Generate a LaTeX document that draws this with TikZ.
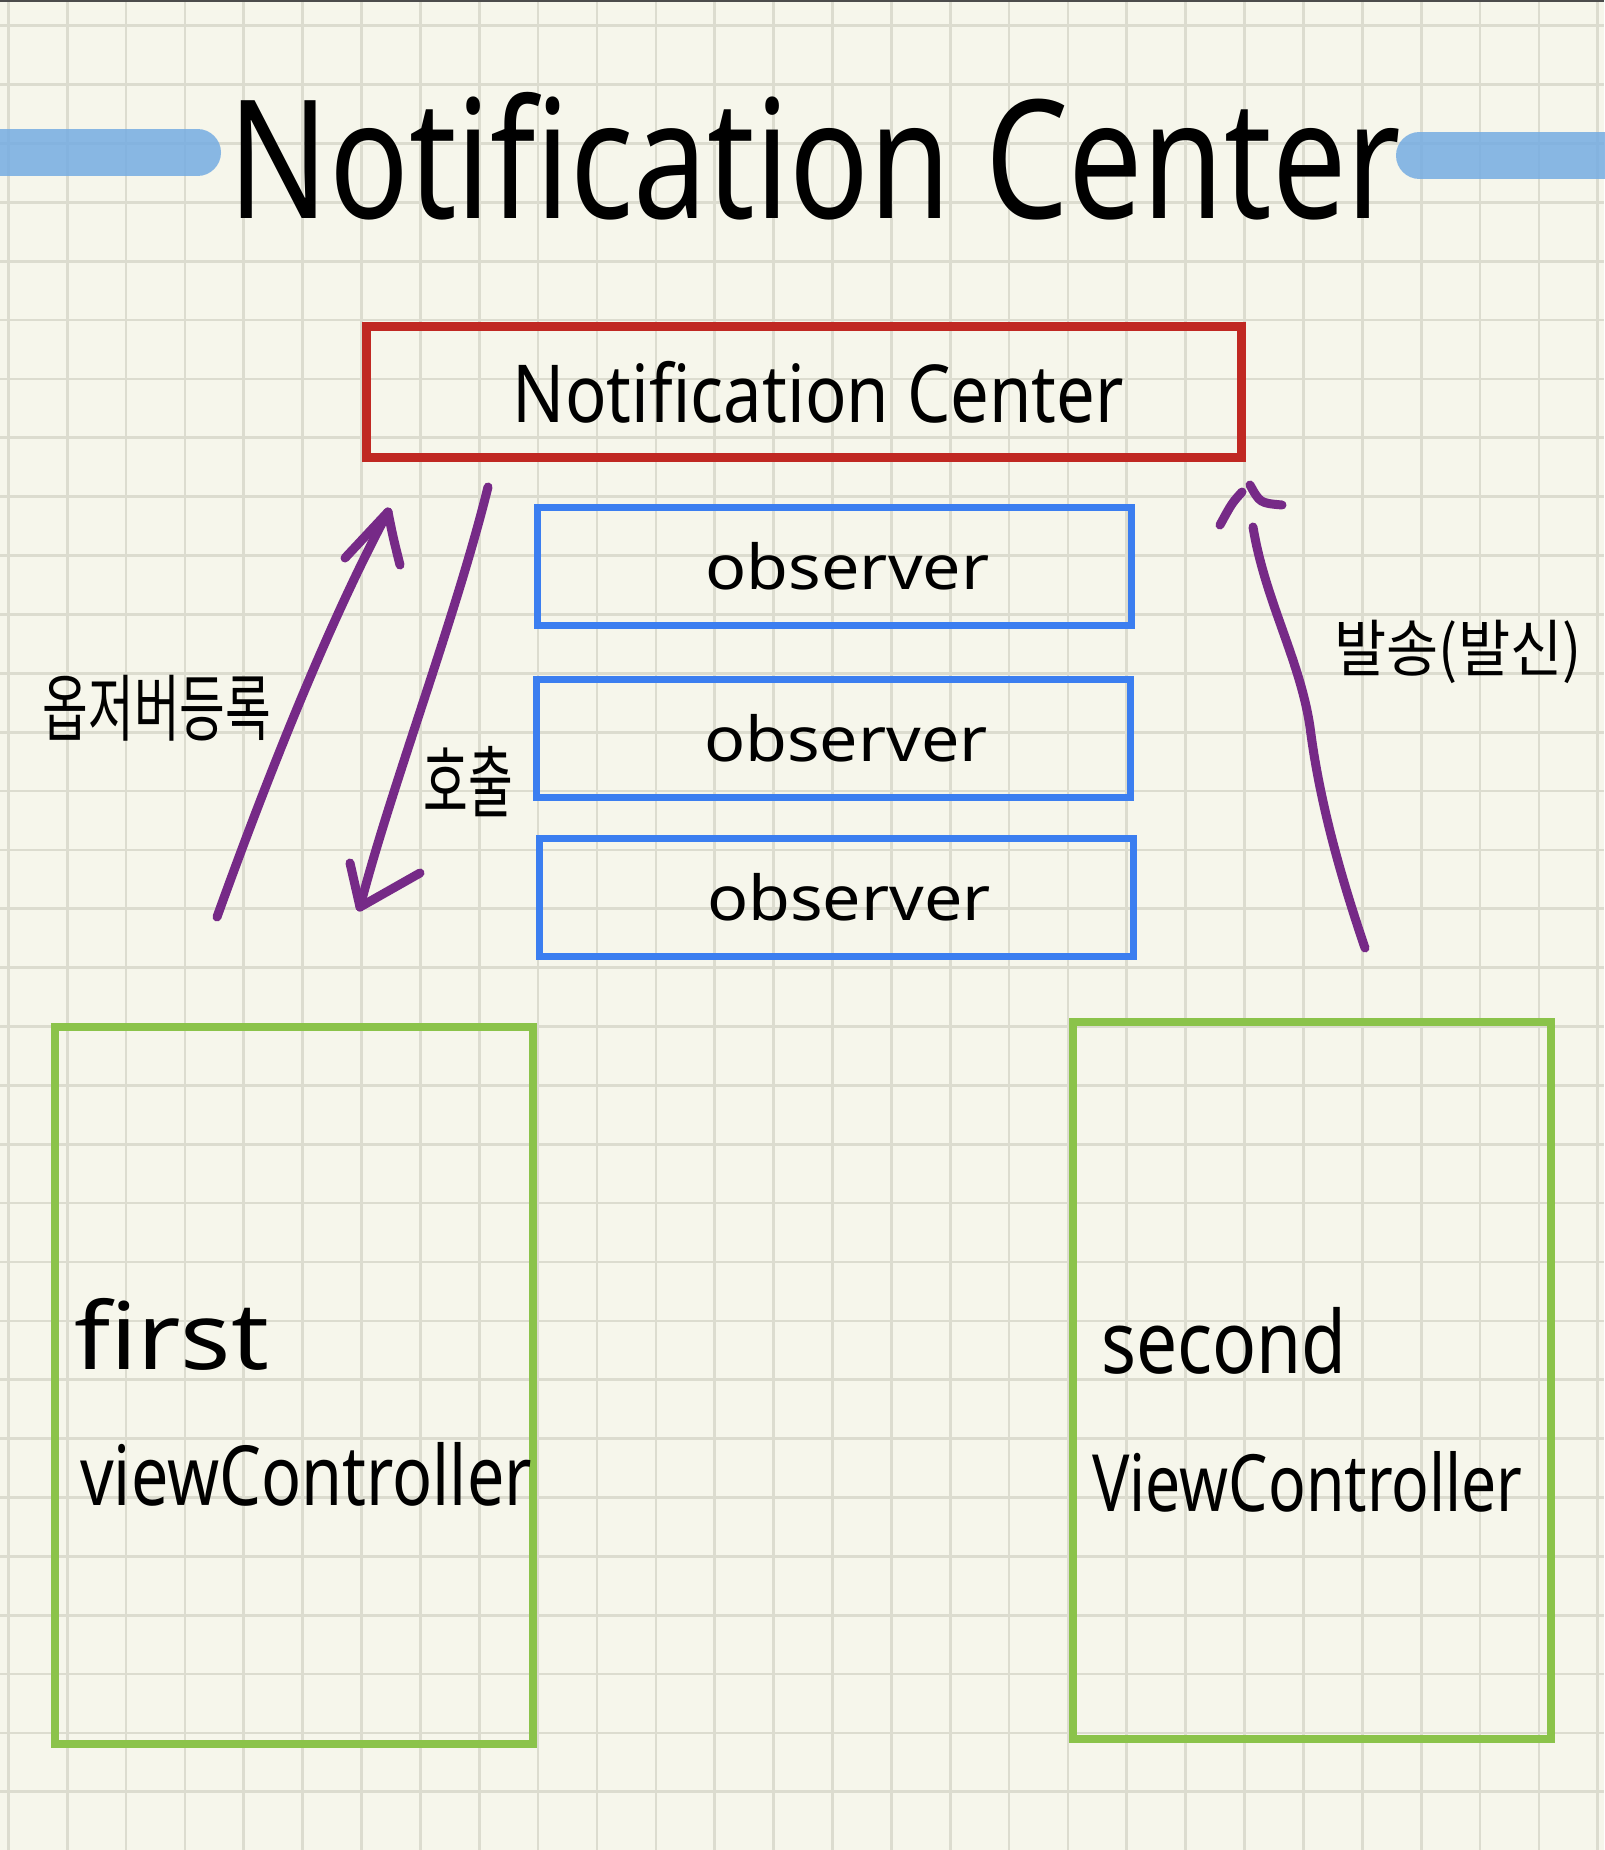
\documentclass[tikz,border=0pt]{standalone}
\usepackage{fontspec}
\setmainfont{Noto Sans}
\newfontfamily\kor{Noto Sans CJK KR}
\usepackage{graphicx}
\usepackage{xcolor}
\usetikzlibrary{arrows.meta, positioning}

\definecolor{paper}{RGB}{246,246,235}
\definecolor{gridline}{RGB}{220,220,207}
\definecolor{marker}{RGB}{117,172,226}
\definecolor{boxred}{RGB}{192,40,34}
\definecolor{boxblue}{RGB}{59,126,240}
\definecolor{boxgreen}{RGB}{139,195,74}
\definecolor{penpurple}{RGB}{118,42,135}

\newcommand{\hand}[2]{\scalebox{#1}[1]{#2}}

\begin{document}
\begin{tikzpicture}[
        x=1pt, y=-1pt,
        gridrule/.style={draw=gridline, line width=2.7pt},
        markerbar/.style={draw=marker, opacity=0.85, line width=47pt, line cap=round},
        centerbox/.style={rectangle, draw=boxred, line width=9pt, minimum width=875pt, minimum height=131pt, inner sep=0pt, font=\fontsize{80}{90}\selectfont},
        obsbox/.style={rectangle, draw=boxblue, line width=7pt, minimum width=594pt, minimum height=118pt, inner sep=0pt, font=\fontsize{62}{70}\selectfont},
        vcbox/.style={rectangle, draw=boxgreen, line width=8pt, minimum width=478pt, minimum height=717pt},
        titletext/.style={font=\fontsize{165}{180}\selectfont, inner sep=0pt},
        vctext/.style={anchor=base west, inner sep=0pt},
        kortext/.style={font=\kor\fontsize{54}{60}\selectfont, inner sep=0pt},
        pen/.style={draw=penpurple, line width=9pt, line cap=round, line join=round}
    ]
        % Paper
        \useasboundingbox (0,0) rectangle (1604,1850);
        \fill[paper] (0,0) rectangle (1604,1850);
        \foreach \i in {0,...,27}
            \draw[gridrule] (8.3+58.87*\i,0) -- (8.3+58.87*\i,1850);
        \foreach \j in {0,...,30}
            \draw[gridrule] (0,25.7+58.87*\j) -- (1604,25.7+58.87*\j);
        \draw[line width=3pt, black!70] (0,0) -- (1604,0);

        % Title
        \draw[markerbar] (-40,152.5) -- (197.5,152.5);
        \draw[markerbar] (1419.5,155.5) -- (1650,155.5);
        \node[titletext, anchor=base] (title) at (815,218) {\hand{0.8}{Notification Center}};

        % Nodes
        \node[centerbox] (center) at (803.5,392) {\hspace*{30pt}\hand{0.86}{Notification Center}};
        \node[obsbox] (obsA) at (834.5,566) {\hspace*{26pt}\hand{1.1}{observer}};
        \node[obsbox] (obsB) at (833,738) {\hspace*{26pt}\hand{1.1}{observer}};
        \node[obsbox] (obsC) at (836,897) {\hspace*{26pt}\hand{1.1}{observer}};
        \node[vcbox] (firstvc) at (294,1385.5) {};
        \node[vcbox] (secondvc) at (1312,1380) {};
        \node[vctext, font=\fontsize{93}{100}\selectfont] (firstA) at (74,1369) {\hand{1.13}{first}};
        \node[vctext, font=\fontsize{83}{90}\selectfont] (firstB) at (80,1505) {\hand{0.8}{viewController}};
        \node[vctext, font=\fontsize{87}{95}\selectfont] (secondA) at (1101,1373) {\hand{0.84}{second}};
        \node[vctext, font=\fontsize{79}{86}\selectfont] (secondB) at (1092,1511) {\hand{0.79}{ViewController}};

        % Labels
        \node[kortext] (regLabel) at (157,708) {\scalebox{0.92}[1.35]{옵저버등록}};
        \node[kortext] (callLabel) at (468,782) {\scalebox{0.9}[1.45]{호출}};
        \node[kortext] (sendLabel) at (1458,652) {\scalebox{1.05}[1.15]{발송(발신)}};

        % Arrows
        \coordinate (regS) at (217,917);
        \coordinate (regE) at (388,512);
        \coordinate (callS) at (488,487);
        \coordinate (callE) at (360,907);
        \coordinate (sendS) at (1365,948);
        \coordinate (sendE) at (1253,527);
        \draw[pen] (regS) .. controls (270,770) and (330,620) .. (regE);
        \draw[pen] (regE) -- (345,558);
        \draw[pen] (regE) .. controls (393,537) .. (400,565);
        \draw[pen] (callS) .. controls (455,620) and (390,790) .. (callE);
        \draw[pen] (callE) -- (350,863);
        \draw[pen] (callE) -- (420,873);
        \draw[pen] (sendS) .. controls (1335,860) and (1318,790) .. (1310,727)
            .. controls (1300,660) and (1265,600) .. (sendE);
        \draw[pen] (1242,492) .. controls (1232,503) .. (1220,525);
        \draw[pen] (1250,485) .. controls (1260,503) .. (1282,505);
    \end{tikzpicture}
\end{document}
